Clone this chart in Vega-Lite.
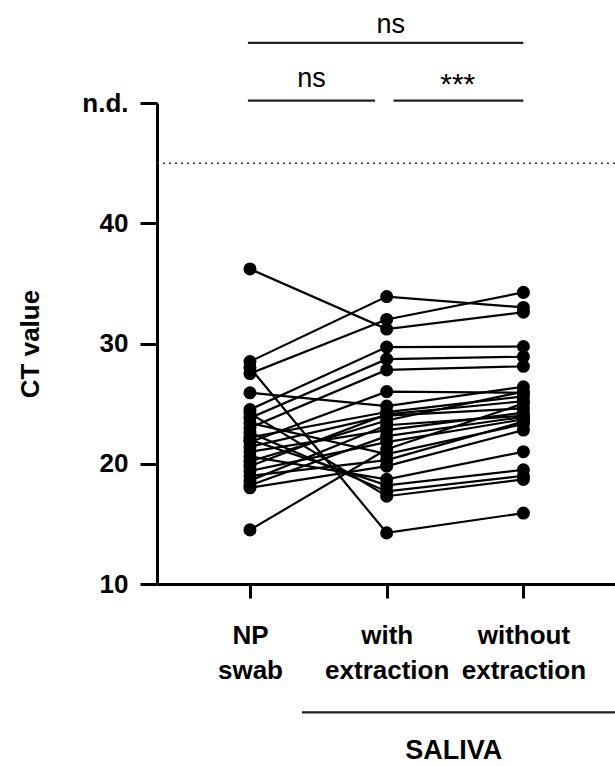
{
  "$schema": "https://vega.github.io/schema/vega-lite/v6.json",
  "width": 458,
  "height": 481,
  "autosize": {"type": "none"},
  "padding": {"left": 157, "top": 103, "right": 0, "bottom": 182},
  "background": "white",
  "config": {
    "view": {"stroke": null},
    "font": "Liberation Sans",
    "axis": {
      "grid": false,
      "domainColor": "black",
      "domainWidth": 3,
      "tickColor": "black",
      "tickWidth": 3,
      "labelFont": "Liberation Sans",
      "labelFontWeight": "bold",
      "labelColor": "black",
      "labelFontSize": 26,
      "titleFont": "Liberation Sans",
      "titleFontWeight": "bold",
      "titleColor": "black",
      "titleFontSize": 26
    }
  },
  "datasets": {
    "ct": [
      {"subject": 1, "group": 1, "ct": 36.2}, {"subject": 1, "group": 2, "ct": 31.2}, {"subject": 1, "group": 3, "ct": 32.6},
      {"subject": 2, "group": 1, "ct": 28.5}, {"subject": 2, "group": 2, "ct": 33.9}, {"subject": 2, "group": 3, "ct": 33.0},
      {"subject": 3, "group": 1, "ct": 28.0}, {"subject": 3, "group": 2, "ct": 14.25}, {"subject": 3, "group": 3, "ct": 15.9},
      {"subject": 4, "group": 1, "ct": 27.5}, {"subject": 4, "group": 2, "ct": 32.0}, {"subject": 4, "group": 3, "ct": 34.25},
      {"subject": 5, "group": 1, "ct": 25.9}, {"subject": 5, "group": 2, "ct": 24.8}, {"subject": 5, "group": 3, "ct": 26.4},
      {"subject": 6, "group": 1, "ct": 24.5}, {"subject": 6, "group": 2, "ct": 29.7}, {"subject": 6, "group": 3, "ct": 29.75},
      {"subject": 7, "group": 1, "ct": 24.2}, {"subject": 7, "group": 2, "ct": 17.3}, {"subject": 7, "group": 3, "ct": 18.7},
      {"subject": 8, "group": 1, "ct": 23.8}, {"subject": 8, "group": 2, "ct": 28.7}, {"subject": 8, "group": 3, "ct": 28.9},
      {"subject": 9, "group": 1, "ct": 23.4}, {"subject": 9, "group": 2, "ct": 20.8}, {"subject": 9, "group": 3, "ct": 23.3},
      {"subject": 10, "group": 1, "ct": 23.0}, {"subject": 10, "group": 2, "ct": 27.8}, {"subject": 10, "group": 3, "ct": 28.1},
      {"subject": 11, "group": 1, "ct": 22.6}, {"subject": 11, "group": 2, "ct": 17.7}, {"subject": 11, "group": 3, "ct": 19.0},
      {"subject": 12, "group": 1, "ct": 22.2}, {"subject": 12, "group": 2, "ct": 24.3}, {"subject": 12, "group": 3, "ct": 25.6},
      {"subject": 13, "group": 1, "ct": 22.0}, {"subject": 13, "group": 2, "ct": 18.2}, {"subject": 13, "group": 3, "ct": 19.5},
      {"subject": 14, "group": 1, "ct": 21.8}, {"subject": 14, "group": 2, "ct": 26.0}, {"subject": 14, "group": 3, "ct": 25.9},
      {"subject": 15, "group": 1, "ct": 21.4}, {"subject": 15, "group": 2, "ct": 24.0}, {"subject": 15, "group": 3, "ct": 24.6},
      {"subject": 16, "group": 1, "ct": 21.0}, {"subject": 16, "group": 2, "ct": 22.8}, {"subject": 16, "group": 3, "ct": 24.25},
      {"subject": 17, "group": 1, "ct": 20.6}, {"subject": 17, "group": 2, "ct": 18.7}, {"subject": 17, "group": 3, "ct": 21.0},
      {"subject": 18, "group": 1, "ct": 20.2}, {"subject": 18, "group": 2, "ct": 23.6}, {"subject": 18, "group": 3, "ct": 26.0},
      {"subject": 19, "group": 1, "ct": 19.8}, {"subject": 19, "group": 2, "ct": 24.1}, {"subject": 19, "group": 3, "ct": 25.2},
      {"subject": 20, "group": 1, "ct": 19.4}, {"subject": 20, "group": 2, "ct": 21.8}, {"subject": 20, "group": 3, "ct": 23.7},
      {"subject": 21, "group": 1, "ct": 19.0}, {"subject": 21, "group": 2, "ct": 20.3}, {"subject": 21, "group": 3, "ct": 23.5},
      {"subject": 22, "group": 1, "ct": 18.6}, {"subject": 22, "group": 2, "ct": 23.2}, {"subject": 22, "group": 3, "ct": 24.0},
      {"subject": 23, "group": 1, "ct": 18.2}, {"subject": 23, "group": 2, "ct": 22.3}, {"subject": 23, "group": 3, "ct": 23.9},
      {"subject": 24, "group": 1, "ct": 18.0}, {"subject": 24, "group": 2, "ct": 19.8}, {"subject": 24, "group": 3, "ct": 22.8},
      {"subject": 25, "group": 1, "ct": 14.5}, {"subject": 25, "group": 2, "ct": 21.2}, {"subject": 25, "group": 3, "ct": 25.0}
    ],
    "bars": [
      {"x1": 0.985, "x2": 3.0, "y": 55},
      {"x1": 0.985, "x2": 1.915, "y": 50.2},
      {"x1": 2.05, "x2": 3.0, "y": 50.2},
      {"x1": 1.38, "x2": 3.67, "y": -0.67}
    ],
    "labels": [
      {"x": 2.03, "y": 55.85, "t": "ns"},
      {"x": 1.45, "y": 51.35, "t": "ns"}
    ],
    "stars": [
      {"x": 2.52, "y": 50.75, "t": "***"}
    ],
    "group_label": [
      {"x": 2.49, "y": -3.92, "t": "SALIVA"}
    ],
    "lod": [{"y": 45}]
  },
  "layer": [
    {
      "data": {"name": "lod"},
      "mark": {"type": "rule", "strokeDash": [2, 4], "strokeWidth": 1.5, "color": "#333333"},
      "encoding": {"y": {"field": "y", "type": "quantitative"}}
    },
    {
      "data": {"name": "ct"},
      "mark": {"type": "line", "color": "black", "strokeWidth": 2.2},
      "encoding": {
        "x": {
          "field": "group", "type": "quantitative",
          "scale": {"domain": [0.32, 3.67], "nice": false, "zero": false},
          "axis": {
            "values": [1, 2, 3],
            "title": null,
            "tickSize": 14,
            "labelPadding": 24,
            "labelFontSize": 26,
            "labelLineHeight": 35,
            "labelExpr": "datum.value == 1 ? ['NP', 'swab'] : datum.value == 2 ? ['with', 'extraction'] : ['without', 'extraction']"
          }
        },
        "y": {
          "field": "ct", "type": "quantitative",
          "scale": {"domain": [10, 50], "nice": false, "zero": false},
          "axis": {
            "values": [10, 20, 30, 40, 50],
            "title": "CT value",
            "titlePadding": 38,
            "tickSize": 17,
            "labelPadding": 12,
            "labelExpr": "datum.value == 50 ? 'n.d.' : datum.label"
          }
        },
        "detail": {"field": "subject", "type": "nominal"}
      }
    },
    {
      "data": {"name": "ct"},
      "mark": {"type": "point", "filled": true, "color": "black", "opacity": 1, "size": 170},
      "encoding": {
        "x": {"field": "group", "type": "quantitative"},
        "y": {"field": "ct", "type": "quantitative"}
      }
    },
    {
      "data": {"name": "bars"},
      "mark": {"type": "rule", "color": "#222222", "strokeWidth": 2.2, "clip": false},
      "encoding": {
        "x": {"field": "x1", "type": "quantitative"},
        "x2": {"field": "x2"},
        "y": {"field": "y", "type": "quantitative"}
      }
    },
    {
      "data": {"name": "labels"},
      "mark": {"type": "text", "fontSize": 27, "color": "black", "font": "Liberation Sans", "baseline": "alphabetic", "clip": false},
      "encoding": {
        "x": {"field": "x", "type": "quantitative"},
        "y": {"field": "y", "type": "quantitative"},
        "text": {"field": "t"}
      }
    },
    {
      "data": {"name": "stars"},
      "mark": {"type": "text", "fontSize": 30, "color": "black", "font": "Liberation Sans", "baseline": "alphabetic", "clip": false},
      "encoding": {
        "x": {"field": "x", "type": "quantitative"},
        "y": {"field": "y", "type": "quantitative"},
        "text": {"field": "t"}
      }
    },
    {
      "data": {"name": "group_label"},
      "mark": {"type": "text", "fontSize": 27, "fontWeight": "bold", "color": "black", "font": "Liberation Sans", "baseline": "middle", "clip": false},
      "encoding": {
        "x": {"field": "x", "type": "quantitative"},
        "y": {"field": "y", "type": "quantitative"},
        "text": {"field": "t"}
      }
    }
  ]
}
